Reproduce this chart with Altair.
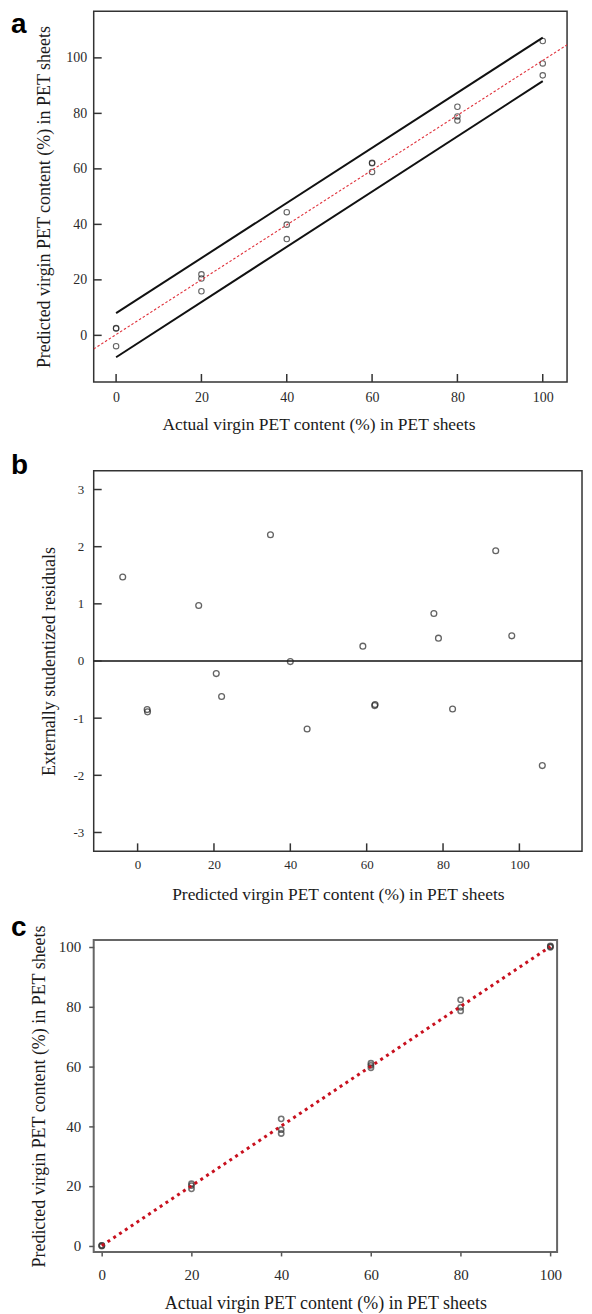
import altair as alt
import pandas as pd

SERIF = "Liberation Serif"
SANS = "Liberation Sans"

# ---------------- Panel a data ----------------
a_actual = [0, 0, 0, 20, 20, 20, 40, 40, 40, 60, 60, 60, 80, 80, 80, 100, 100, 100]
a_pred = [2.5, 2.6, -3.9, 22.0, 20.5, 15.9, 44.4, 39.9, 34.7, 62.2, 62.0, 58.9,
          82.4, 78.9, 77.4, 106.1, 98.0, 93.7]
a_band_x = [0, 100]
a_upper = [8.0, 107.3]
a_lower = [-7.9, 91.6]
a_fit_x = [-5.25, 105.7]
a_fit_y = [-4.9, 104.7]
a_xticks = [0, 20, 40, 60, 80, 100]
a_yticks = [0, 20, 40, 60, 80, 100]

# ---------------- Panel b data ----------------
b_pred = [-3.9, 2.5, 2.6, 16.0, 20.6, 22.0, 34.8, 40.0, 44.4, 59.0, 62.2, 62.1,
          77.6, 78.8, 82.5, 93.8, 98.0, 106.0]
b_resid = [1.47, -0.85, -0.89, 0.97, -0.22, -0.62, 2.21, -0.01, -1.19, 0.26, -0.76, -0.78,
           0.83, 0.40, -0.84, 1.93, 0.44, -1.83]
b_zero = [0]
b_xticks = [0, 20, 40, 60, 80, 100]
b_yticks = [-3, -2, -1, 0, 1, 2, 3]

# ---------------- Panel c data ----------------
c_actual = [0, 0, 0, 20, 20, 20, 40, 40, 40, 60, 60, 60, 80, 80, 80, 100, 100, 100]
c_pred = [0.1, 0.0, -0.1, 20.7, 20.1, 19.0, 42.4, 38.8, 37.5, 61.0, 60.3, 59.5,
          82.2, 79.7, 78.5, 100.2, 100.0, 99.8]
c_line_x = [0, 100]
c_line_y = [0, 100]
c_xticks = [0, 20, 40, 60, 80, 100]
c_yticks = [0, 20, 40, 60, 80, 100]

LABEL_COLOR = "#2a2a2a"
TITLE_COLOR = "#1a1a1a"


def make_axis(values, title, size, pad, tpad, tsize=18, ticks=False, tick_size=4, **extra):
    kw = dict(values=values, title=title, grid=False, domain=False, ticks=ticks,
              labelFont=SERIF, labelFontSize=size, labelColor=LABEL_COLOR,
              labelPadding=pad, titleFont=SERIF, titleFontSize=tsize, titleFontWeight="normal",
              titleColor=TITLE_COLOR, titlePadding=tpad, labelExpr="'' + datum.value",
              labelFlush=False)
    if ticks:
        kw.update(tickSize=tick_size, tickColor="#555", tickWidth=1.5)
    kw.update(extra)
    return alt.Axis(**kw)


def inward_ticks(xticks, yticks, W, H, X, Y, color="#333"):
    xt = alt.Chart(pd.DataFrame({"x": xticks})).mark_rule(color=color, strokeWidth=1.5).encode(
        x=X(), y=alt.value(H), y2=alt.value(H - 8))
    yt = alt.Chart(pd.DataFrame({"y": yticks})).mark_rule(color=color, strokeWidth=1.5).encode(
        y=Y(), x=alt.value(0), x2=alt.value(8))
    return [xt, yt]


def panel_label(txt, y):
    return alt.Chart(pd.DataFrame({"t": [txt]})).mark_text(
        font=SANS, fontWeight="bold", fontSize=28, align="left", baseline="alphabetic",
        color="black").encode(text="t:N", x=alt.value(-83), y=alt.value(y))


# ---------------- Panel a ----------------
WA, HA = 475, 372
xs_a = alt.Scale(domain=[-5.25, 105.7], nice=False, zero=False)
ys_a = alt.Scale(domain=[-16.8, 116.8], nice=False, zero=False)
xa = make_axis(a_xticks, "Actual virgin PET content (%) in PET sheets", 14, 9, 11, tsize=17.5,
               titleX=WA / 2 - 12)
ya = make_axis(a_yticks, "Predicted  virgin PET content (%) in PET sheets", 14, 7, 12)
XA = lambda: alt.X("x:Q", scale=xs_a, axis=xa)
YA = lambda: alt.Y("y:Q", scale=ys_a, axis=ya)

pts_a = alt.Chart(pd.DataFrame({"x": a_actual, "y": a_pred})).mark_point(
    shape="circle", filled=False, color="#222", size=30, strokeWidth=1.1).encode(x=XA(), y=YA())

band_df = pd.DataFrame({
    "x": a_band_x + a_band_x,
    "y": a_upper + a_lower,
    "g": ["upper"] * len(a_band_x) + ["lower"] * len(a_band_x),
})
band_a = alt.Chart(band_df).mark_line(color="#111", strokeWidth=2).encode(
    x=XA(), y=YA(), detail="g:N")
fit_a = alt.Chart(pd.DataFrame({"x": a_fit_x, "y": a_fit_y})).mark_line(
    color="#e0303a", strokeWidth=1.1, strokeDash=[2.5, 2], clip=True).encode(x=XA(), y=YA())

panel_a = alt.layer(
    pts_a, fit_a, band_a, *inward_ticks(a_xticks, a_yticks, WA, HA, XA, YA), panel_label("a", 22)
).properties(width=WA, height=HA, view=alt.ViewBackground(stroke="#333", strokeWidth=1.5))

# ---------------- Panel b ----------------
WB, HB = 490, 382
xs_b = alt.Scale(domain=[-11.5, 116.4], nice=False, zero=False)
ys_b = alt.Scale(domain=[-3.33, 3.33], nice=False, zero=False)
xb = make_axis(b_xticks, "Predicted virgin PET content (%) in PET sheets", 13, 7, 14, tsize=17.5)
yb = make_axis(b_yticks, "Externally studentized residuals", 13, 10, 15)
XB = lambda: alt.X("x:Q", scale=xs_b, axis=xb)
YB = lambda: alt.Y("y:Q", scale=ys_b, axis=yb)

pts_b = alt.Chart(pd.DataFrame({"x": b_pred, "y": b_resid})).mark_point(
    shape="circle", filled=False, color="#222", size=34, strokeWidth=1.3).encode(x=XB(), y=YB())
zero_b = alt.Chart(pd.DataFrame({"y": b_zero})).mark_rule(color="#111", strokeWidth=1.5).encode(
    y=YB())

panel_b = alt.layer(
    zero_b, pts_b, *inward_ticks(b_xticks, b_yticks, WB, HB, XB, YB), panel_label("b", 3)
).properties(width=WB, height=HB, view=alt.ViewBackground(stroke="#333", strokeWidth=1.5))

# ---------------- Panel c ----------------
WC, HC = 465, 313
xs_c = alt.Scale(domain=[-1.8, 101.5], nice=False, zero=False)
ys_c = alt.Scale(domain=[-2.1, 102.2], nice=False, zero=False)
xc = make_axis(c_xticks, "Actual virgin PET content (%) in PET sheets", 15, 12, 12,
               ticks=True, tick_size=4)
yc = make_axis(c_yticks, "Predicted  virgin PET content (%) in PET sheets", 15, 8, 10,
               ticks=True, tick_size=5)
XC = lambda: alt.X("x:Q", scale=xs_c, axis=xc)
YC = lambda: alt.Y("y:Q", scale=ys_c, axis=yc)

pts_c = alt.Chart(pd.DataFrame({"x": c_actual, "y": c_pred})).mark_point(
    shape="circle", filled=False, color="#3a3a3a", size=28, strokeWidth=1.6).encode(x=XC(), y=YC())
line_c = alt.Chart(pd.DataFrame({"x": c_line_x, "y": c_line_y})).mark_line(
    color="#c8101e", strokeWidth=3, strokeDash=[3, 4]).encode(x=XC(), y=YC())

panel_c = alt.layer(
    pts_c, line_c, panel_label("c", -4)
).properties(width=WC, height=HC, view=alt.ViewBackground(stroke="#666", strokeWidth=2))

chart = alt.vconcat(panel_a, panel_b, panel_c, spacing=89, bounds="flush").properties(
    padding={"left": 2, "top": 0, "right": 0, "bottom": 0}
).configure_view(strokeWidth=1.5)

chart.save("out.html", embed_options={"renderer": "svg", "actions": False})
